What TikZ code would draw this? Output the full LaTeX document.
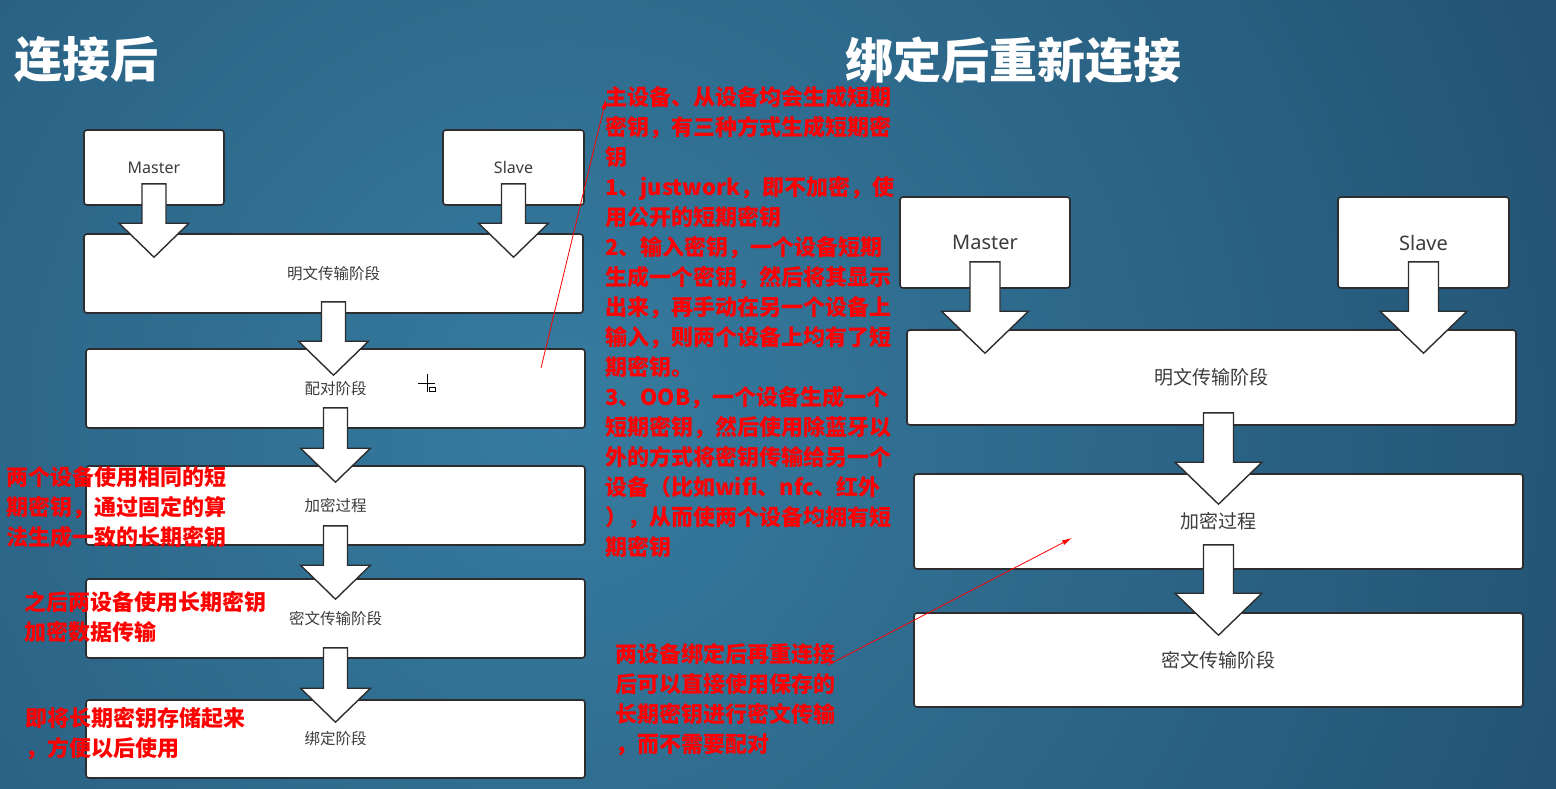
\documentclass[tikz,border=0pt]{standalone}
\usepackage{fontspec}
\setmainfont{Noto Sans}
\newfontfamily\cjk{Noto Sans CJK SC}
\usetikzlibrary{positioning,calc,arrows.meta}

\definecolor{bglight}{RGB}{54,124,160}
\definecolor{bgdark}{RGB}{22,55,85}
\definecolor{boxline}{RGB}{45,45,48}
\definecolor{labelgray}{RGB}{60,60,60}
\definecolor{notered}{RGB}{255,0,0}

\tikzset{
  stagebox/.style={draw=boxline, line width=1.6pt, fill=white, rounded corners=3pt,
    text=labelgray, inner sep=0pt},
  bigarrow/.style n args={3}{draw=boxline, line width=1.4pt, fill=white, line join=miter,
    to path={let \p1=(\tikztostart), \p2=(\tikztotarget) in
      (\x1-#1pt,\y1) -- (\x1+#1pt,\y1) -- (\x1+#1pt,\y2+#3pt) -- (\x1+#2pt,\y2+#3pt)
      -- (\x1,\y2) -- (\x1-#2pt,\y2+#3pt) -- (\x1-#1pt,\y2+#3pt) -- cycle}},
  note/.style={text=notered, align=left, inner sep=0pt,
    font=\cjk\bfseries\fontsize{22}{30}\selectfont},
  heading/.style={text=white, inner sep=0pt, font=\cjk\bfseries\fontsize{48}{50}\selectfont},
  redline/.style={draw=notered, line width=0.8pt, -{Latex[length=10pt,width=5pt]}}
}

\begin{document}
\begin{tikzpicture}[x=1pt,y=-1pt]
  \useasboundingbox (0,0) rectangle (1556,788);
  % background
  \begin{scope}
    \clip (0,0) rectangle (1556,788);
    \shade[inner color=bglight, outer color=bgdark] (560,420) circle (1800);
  \end{scope}

  % titles
  \node[heading, anchor=west] (lefttitle) at (14,60) {连接后};
  \node[heading, anchor=west] (righttitle) at (845,60) {绑定后重新连接};

  % left: after connecting
  \begin{scope}[every node/.append style={font=\cjk\fontsize{15.5}{18}\selectfont}]
    \node[stagebox, minimum width=140, minimum height=75, font=\fontsize{16}{18}\selectfont] (master) at (154,167.5) {Master};
    \node[stagebox, minimum width=141, minimum height=75, font=\fontsize{16}{18}\selectfont] (slave) at (513.5,167.5) {Slave};
    \node[stagebox, minimum width=499, minimum height=79] (clear1) at (333.5,273.5) {明文传输阶段};
    \node[stagebox, minimum width=499, minimum height=79] (pair1) at (335.5,388.5) {配对阶段};
    \node[stagebox, minimum width=499, minimum height=79] (enc1) at (335.5,505.5) {加密过程};
    \node[stagebox, minimum width=499, minimum height=79] (cipher1) at (335.5,618.5) {密文传输阶段};
    \node[stagebox, minimum width=499, minimum height=78] (bind1) at (335.5,739) {绑定阶段};
  \end{scope}

  \draw[bigarrow={12}{35}{34}] ($(master.south)+(0,-22)$) to ($(clear1.north)+(0,24)$);
  \draw[bigarrow={12}{35}{34}] ($(slave.south)+(0,-22)$) to ($(clear1.north)+(0,24)$);
  \draw[bigarrow={12}{35}{34}] ($(clear1.south)+(0,-12)$) to ($(pair1.north)+(0,27)$);
  \draw[bigarrow={12}{35}{34}] ($(pair1.south)+(0,-21)$) to ($(enc1.north)+(0,17)$);
  \draw[bigarrow={12}{35}{34}] ($(enc1.south)+(0,-20)$) to ($(cipher1.north)+(0,21)$);
  \draw[bigarrow={12}{35}{34}] ($(cipher1.south)+(0,-11)$) to ($(bind1.north)+(0,23)$);

  % right: reconnecting after bonding
  \begin{scope}[every node/.append style={font=\cjk\fontsize{19}{22}\selectfont}]
    \node[stagebox, minimum width=170, minimum height=91, font=\fontsize{20}{22}\selectfont] (master2) at (985,242.5) {Master};
    \node[stagebox, minimum width=171, minimum height=91, font=\fontsize{20}{22}\selectfont] (slave2) at (1423.5,242.5) {Slave};
    \node[stagebox, minimum width=609, minimum height=95] (clear2) at (1211.5,377.5) {明文传输阶段};
    \node[stagebox, minimum width=609, minimum height=95] (enc2) at (1218.5,521.5) {加密过程};
    \node[stagebox, minimum width=609, minimum height=94] (cipher2) at (1218.5,660) {密文传输阶段};
  \end{scope}

  \draw[bigarrow={15}{43.5}{42}] ($(master2.south)+(0,-27)$) to ($(clear2.north)+(0,24)$);
  \draw[bigarrow={15}{43.5}{42}] ($(slave2.south)+(0,-27)$) to ($(clear2.north)+(0,24)$);
  \draw[bigarrow={15}{43.5}{42}] ($(enc2.north |- clear2.south)+(0,-13)$) to ($(enc2.north)+(0,31)$);
  \draw[bigarrow={15}{43.5}{42}] ($(enc2.south)+(0,-25)$) to ($(cipher2.north)+(0,23)$);

  % red notes (placed by the baseline of their last line)
  \node[note, anchor=base west] (keynote) at (605,555) {主设备、从设备均会生成短期\\密钥，有三种方式生成短期密\\钥\\1、justwork，即不加密，使\\用公开的短期密钥\\2、输入密钥，一个设备短期\\生成一个密钥，然后将其显示\\出来，再手动在另一个设备上\\输入，则两个设备上均有了短\\期密钥。\\3、OOB，一个设备生成一个\\短期密钥，然后使用除蓝牙以\\外的方式将密钥传输给另一个\\设备（比如wifi、nfc、红外\\），从而使两个设备均拥有短\\期密钥};
  \node[note, anchor=base west] (samenote) at (6,545) {两个设备使用相同的短\\期密钥，通过固定的算\\法生成一致的长期密钥};
  \node[note, anchor=base west] (longnote) at (24,640) {之后两设备使用长期密钥\\加密数据传输};
  \node[note, anchor=base west] (storenote) at (25,756) {即将长期密钥存储起来\\，方便以后使用};
  \node[note, anchor=base west] (reconnote) at (615,752) {两设备绑定后再重连接\\后可以直接使用保存的\\长期密钥进行密文传输\\，而不需要配对};

  \coordinate (pairmark) at (541,368);
  \coordinate (keymark) at (606,99);
  \draw[redline] (pairmark) -- (keymark);
  \coordinate (reconmark) at (828,665);
  \coordinate (encmark) at (1072,538);
  \draw[redline] (reconmark) -- (encmark);

  % mouse pointer
  \draw[black, line width=0.8pt] (418,383) -- (435,383) (427,374) -- (427,392);
  \draw[black, line width=0.6pt, fill=white] (429.5,387) rectangle (435,391.5);
\end{tikzpicture}
\end{document}
